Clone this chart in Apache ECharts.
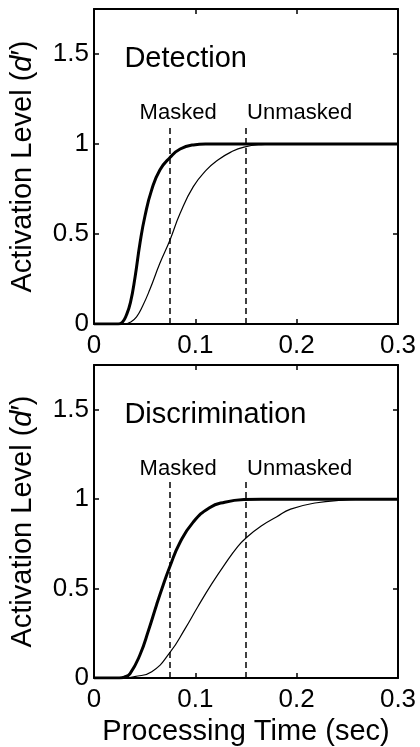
<!DOCTYPE html>
<html>
<head>
<meta charset="utf-8">
<script src="https://cdn.jsdelivr.net/npm/echarts@6/dist/echarts.min.js"></script>
<style>
  html, body { margin: 0; padding: 0; background: #fff; }
  #main { width: 420px; height: 747px; }
</style>
</head>
<body>
<div id="main"></div>
<script>
// 面板标题
const panelTitles = ['Detection', 'Discrimination']
// 两条竖虚线的位置 (sec) 和标签
const markerTimes = [0.075, 0.15]
const markerLabels = ['Masked', 'Unmasked']
const xTicks = [0, 0.1, 0.2, 0.3]
const yTicks = [0, 0.5, 1, 1.5]

// Detection: 粗线 = masked, 细线 = unmasked  [time, d']
const detThick = [
  [0, 0], [0.024, 0], [0.028, 0.01], [0.032, 0.05], [0.036, 0.12], [0.0405, 0.26],
  [0.0454, 0.45], [0.0503, 0.6], [0.0569, 0.745], [0.065, 0.856], [0.075, 0.925],
  [0.085, 0.972], [0.098, 0.995], [0.11, 1], [0.3, 1]
]
const detThin = [
  [0, 0], [0.03, 0], [0.036, 0.01], [0.042, 0.04], [0.048, 0.1], [0.055, 0.19],
  [0.065, 0.337], [0.075, 0.467], [0.085, 0.615], [0.098, 0.763], [0.111, 0.856],
  [0.122, 0.91], [0.135, 0.955], [0.148, 0.983], [0.165, 0.997], [0.18, 1], [0.3, 1]
]
// Discrimination
const discThick = [
  [0, 0], [0.025, 0], [0.03, 0.005], [0.0356, 0.025], [0.0454, 0.13], [0.054, 0.27],
  [0.0618, 0.41], [0.0683, 0.52], [0.075, 0.625], [0.0846, 0.755], [0.0977, 0.87],
  [0.114, 0.952], [0.129, 0.983], [0.148, 0.998], [0.165, 1], [0.3, 1]
]
const discThin = [
  [0, 0], [0.03, 0], [0.04, 0.008], [0.057, 0.035], [0.075, 0.143], [0.0895, 0.272],
  [0.1026, 0.4], [0.1157, 0.522], [0.1287, 0.633], [0.1418, 0.735], [0.15, 0.783],
  [0.165, 0.85], [0.18, 0.9], [0.194, 0.944], [0.22, 0.98], [0.246, 0.994],
  [0.265, 1], [0.3, 1]
]

const FONT = '"Liberation Sans", Arial, Helvetica, sans-serif'
const panelCurves = [[detThick, detThin], [discThick, discThin]]
const gridTops = [9, 365]

const chartDom = document.getElementById('main')
const myChart = echarts.init(chartDom, null, { renderer: 'canvas' })

const grids = []
const xAxes = []
const yAxes = []
const series = []

const axisLine = { show: true, onZero: false, lineStyle: { color: '#000', width: 2 } }
const axisTick = { show: true, inside: true, length: 5, lineStyle: { color: '#000', width: 1.5 } }

panelTitles.forEach((title, p) => {
  grids.push({ left: 92, top: gridTops[p], width: 306, height: 315 })

  // 底部 x 轴 (带刻度标签)
  xAxes.push({
    gridIndex: p, type: 'value', position: 'bottom',
    min: xTicks[0], max: xTicks[xTicks.length - 1], interval: 0.1,
    axisLine, axisTick, splitLine: { show: false },
    axisLabel: { color: '#000', fontSize: 26, fontFamily: FONT, margin: 9 },
    name: p === 1 ? 'Processing Time (sec)' : '',
    nameLocation: 'middle', nameGap: 39,
    nameTextStyle: { color: '#000', fontSize: 29, fontFamily: FONT }
  })
  // 顶部 x 轴 (只有刻度)
  xAxes.push({
    gridIndex: p, type: 'value', position: 'top',
    min: 0, max: 0.3, interval: 0.1,
    axisLine, axisTick, splitLine: { show: false }, axisLabel: { show: false }
  })
  // 左侧 y 轴
  yAxes.push({
    gridIndex: p, type: 'value', position: 'left',
    min: yTicks[0], max: 1.75, interval: 0.5,
    axisLine, axisTick, splitLine: { show: false },
    axisLabel: { color: '#000', fontSize: 26, fontFamily: FONT, margin: 5, showMaxLabel: false },
    name: 'Activation Level ({it|d}\u2032)',
    nameLocation: 'middle', nameGap: 57,
    nameTextStyle: {
      color: '#000', fontSize: 29, fontFamily: FONT,
      rich: { it: { fontStyle: 'italic', fontSize: 29, fontFamily: FONT, color: '#000' } }
    }
  })
  // 右侧 y 轴 (只有刻度)
  yAxes.push({
    gridIndex: p, type: 'value', position: 'right',
    min: 0, max: 1.75, interval: 0.5,
    axisLine, axisTick, splitLine: { show: false }, axisLabel: { show: false }
  })

  const xi = p * 2
  const yi = p * 2

  // 竖虚线
  markerTimes.forEach(t => {
    series.push({
      type: 'line', xAxisIndex: xi, yAxisIndex: yi, symbol: 'none', silent: true,
      lineStyle: { color: '#000', width: 1.5, type: [6, 4] },
      data: [[t, 0], [t, 1.1]]
    })
  })

  // 曲线: 粗 / 细
  const [thick, thin] = panelCurves[p]
  series.push({
    type: 'line', xAxisIndex: xi, yAxisIndex: yi, symbol: 'none', silent: true,
    smooth: 0.5,
    lineStyle: { color: '#000', width: 1.2 }, data: thin, z: 3
  })
  series.push({
    type: 'line', xAxisIndex: xi, yAxisIndex: yi, symbol: 'none', silent: true,
    smooth: 0.5,
    lineStyle: { color: '#000', width: 3 }, data: thick, z: 4
  })

  // 文字标注
  const labelPoints = [
    { value: [0.03, 1.47], text: title, size: 29 },
    { value: [0.045, 1.17], text: markerLabels[0], size: 22 },
    { value: [0.151, 1.17], text: markerLabels[1], size: 22 }
  ]
  series.push({
    type: 'scatter', xAxisIndex: xi, yAxisIndex: yi, silent: true,
    symbolSize: 0, itemStyle: { color: '#000', opacity: 1 },
    data: labelPoints.map(d => ({
      value: d.value,
      label: {
        show: true, position: 'right', distance: 0, formatter: d.text,
        color: '#000', fontSize: d.size, fontFamily: FONT
      }
    }))
  })
})

const option = {
  backgroundColor: '#fff',
  animation: false,
  grid: grids,
  xAxis: xAxes,
  yAxis: yAxes,
  series
}

myChart.setOption(option)
</script>
</body>
</html>
